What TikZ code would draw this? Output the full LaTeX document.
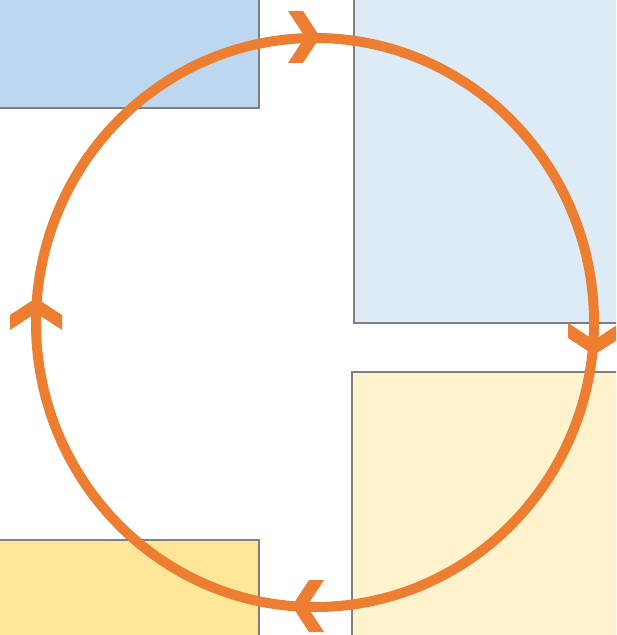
\documentclass[tikz,border=0pt]{standalone}
\usepackage{tikz}
\usetikzlibrary{arrows.meta,positioning,calc}
\definecolor{paleblue}{HTML}{BDD7EE}
\definecolor{lightblue}{HTML}{DDEBF7}
\definecolor{lightsand}{HTML}{FFF2CC}
\definecolor{sand}{HTML}{FFE699}
\definecolor{cycleorange}{HTML}{ED7D31}
\definecolor{edgegray}{HTML}{7F7F7F}

\begin{document}
\begin{tikzpicture}[x=0.025cm,y=-0.025cm,
  quad/.style={draw=edgegray,line width=0.9pt},
  ring/.style={draw=cycleorange,line width=0.25cm},
  chevron/.style={fill=cycleorange}]
\useasboundingbox (0,0) rectangle (616,635);
\clip (0,0) rectangle (616,635);
% four quadrant panels
\draw[quad,fill=paleblue]  (-10,-10) rectangle (259,108);
\draw[quad,fill=lightblue] (354,-10) rectangle (626,323);
\draw[quad,fill=lightsand] (352,372) rectangle (626,645);
\draw[quad,fill=sand]      (-10,540) rectangle (259,645);
% the cycle
\coordinate (hub) at (315,322.5);
\draw[ring] (hub) ellipse [x radius=279, y radius=284.5];
% chevrons: top, right, bottom, left
\foreach \px/\py/\ang [count=\i] in {304/37/0, 594/339/-90, 308/606/180, 36/314/90}{
  \fill[chevron,shift={(\px,\py)},rotate=\ang]
    (16,0) -- (-1,26) -- (-16,26) -- (1,0) -- (-16,-26) -- (-1,-26) -- cycle;
}
\end{tikzpicture}
\end{document}
